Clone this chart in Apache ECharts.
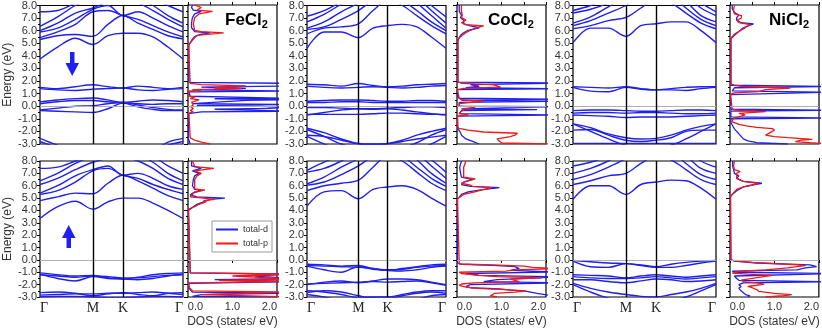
<!DOCTYPE html>
<html>
<head>
<meta charset="utf-8">
<script src="https://cdn.jsdelivr.net/npm/echarts@6/dist/echarts.min.js"></script>
<style>
  html, body { margin: 0; padding: 0; background: #fff; }
  #chart { width: 822px; height: 332px; }
</style>
</head>
<body>
<div id="chart"></div>
<script>
// k-path: Γ - M - K - Γ
const kTicks = [0, 0.37, 0.58, 1]
const kLabels = ['Γ', 'M', 'K', 'Γ']
// band samples: Γ, 1/3 ΓM, 2/3 ΓM, M, mid MK, K, 1/4 KΓ, 1/2 KΓ, 3/4 KΓ, Γ
const kPts = [0, 0.123, 0.247, 0.37, 0.475, 0.58, 0.685, 0.79, 0.895, 1]
// DOS axis tick values
const dosTicks = [0, 1, 2]

// ---- band energies (eV) ----
const bandsFeDn = [
  [3.75, 4.7, 5.4, 4.9, 5.6, 5.8, 5.8, 5.5, 4.7, 3.75],
  [5.3, 5.6, 5.7, 5.55, 6.5, 7.2, 6.6, 6.1, 5.6, 5.35],
  [5.45, 5.9, 6.5, 7.5, 7.6, 7.2, 6.9, 6.4, 5.9, 5.5],
  [5.9, 6.2, 6.9, 7.7, 8.0, 7.2, 7.5, 7.0, 6.4, 5.9],
  [6.0, 6.6, 7.4, 7.8, 8.3, 8.4, 8.2, 7.6, 6.9, 6.3],
  [6.35, 7.1, 8.0, 8.6, 8.8, 8.8, 8.6, 8.0, 7.2, 6.6],
  [7.5, 7.6, 8.2, 8.8, 9, 9, 9, 8.6, 8.0, 7.5],
  [1.5, 1.4, 1.55, 1.7, 1.55, 1.45, 1.6, 1.5, 1.4, 1.5],
  [1.4, 1.3, 1.25, 1.35, 1.4, 1.45, 1.3, 1.25, 1.35, 1.4],
  [0.35, 0.5, 0.6, 0.65, 0.5, 0.3, 0.4, 0.5, 0.45, 0.35],
  [0.2, 0.35, 0.45, 0.45, 0.35, 0.3, 0.2, 0.15, 0.2, 0.2],
  [-0.3, -0.15, 0.0, 0.05, 0.2, 0.3, 0.1, -0.1, -0.25, -0.3],
  [-0.35, -0.4, -0.45, -0.5, -0.2, 0.25, -0.05, -0.25, -0.35, -0.35],
  [-2.55, -3.1, -3.6, -3.9, -4, -4, -3.8, -3.5, -2.85, -2.55],
  [-2.8, -3.3, -3.8, -4, -4, -4, -4, -3.7, -3.1, -2.8]
]
const bandsFeUp = [
  [3.35, 4.3, 4.75, 4.1, 4.7, 5.0, 5.0, 4.6, 4.0, 3.35],
  [4.8, 5.1, 5.4, 5.35, 6.2, 6.85, 6.4, 5.8, 5.2, 4.8],
  [5.3, 5.6, 6.3, 7.2, 7.4, 6.85, 6.6, 6.1, 5.7, 5.35],
  [5.4, 6.0, 6.8, 7.3, 7.6, 6.85, 7.0, 6.6, 6.0, 5.7],
  [6.1, 6.6, 7.3, 7.9, 8.2, 8.3, 8.0, 7.4, 6.6, 6.1],
  [6.4, 7.0, 7.8, 8.4, 8.6, 8.6, 8.5, 7.9, 7.0, 6.4],
  [7.4, 7.5, 8.0, 8.5, 9, 9, 9, 8.4, 7.6, 7.0],
  [-1.05, -1.2, -1.3, -1.25, -1.45, -1.55, -1.4, -1.2, -1.1, -1.05],
  [-1.15, -1.5, -1.7, -1.35, -1.5, -1.55, -1.6, -1.5, -1.3, -1.15],
  [-1.2, -1.3, -1.4, -1.3, -1.35, -1.45, -1.45, -1.35, -1.25, -1.2],
  [-2.65, -2.6, -2.7, -2.9, -2.75, -2.65, -2.8, -2.9, -2.7, -2.65],
  [-2.85, -2.8, -2.75, -2.75, -2.7, -2.7, -2.65, -2.6, -2.7, -2.8],
  [-3.0, -2.95, -2.95, -3.0, -3.05, -3.05, -3.0, -2.95, -2.95, -3.0]
]
const bandsCoDn = [
  [4.6, 5.9, 5.9, 5.45, 6.2, 6.4, 6.5, 6.3, 5.5, 4.6],
  [5.75, 6.2, 6.3, 6.55, 7.6, 8.4, 8.0, 7.2, 6.4, 5.75],
  [6.1, 6.3, 6.9, 7.6, 8.4, 8.8, 8.4, 7.6, 6.7, 6.0],
  [6.2, 6.7, 7.5, 8.2, 9, 9, 9, 8.2, 7.2, 6.2],
  [6.7, 7.3, 8.1, 8.8, 9, 9, 9, 8.6, 7.6, 6.6],
  [7.15, 7.6, 8.3, 9, 9, 9, 9, 9, 8.0, 7.1],
  [1.75, 1.7, 1.6, 1.8, 1.65, 1.55, 1.6, 1.7, 1.75, 1.8],
  [1.6, 1.5, 1.45, 1.5, 1.55, 1.5, 1.45, 1.5, 1.6, 1.65],
  [0.4, 0.45, 0.5, 0.5, 0.45, 0.4, 0.4, 0.45, 0.45, 0.4],
  [0.3, 0.3, 0.35, 0.35, 0.3, 0.3, 0.3, 0.3, 0.3, 0.3],
  [-0.1, -0.1, -0.15, -0.2, -0.2, -0.15, -0.1, -0.05, -0.05, -0.1],
  [-0.7, -0.5, -0.3, -0.2, -0.25, -0.2, -0.3, -0.45, -0.6, -0.7],
  [-0.65, -0.65, -0.65, -0.65, -0.6, -0.55, -0.55, -0.6, -0.65, -0.65],
  [-1.75, -2.1, -2.6, -2.95, -3.0, -2.95, -2.7, -2.3, -2.0, -1.75],
  [-2.3, -2.4, -2.7, -3.0, -3.05, -3.0, -2.8, -2.6, -2.45, -2.3],
  [-2.4, -3.0, -3.5, -3.8, -3.9, -3.9, -3.8, -3.5, -3.0, -2.4],
  [-1.85, -2.4, -3.0, -3.4, -3.5, -3.5, -3.3, -2.9, -2.3, -1.85]
]
const bandsCoUp = [
  [4.35, 5.5, 5.6, 4.95, 5.7, 5.9, 6.0, 5.7, 5.0, 4.35],
  [5.6, 6.0, 6.2, 6.45, 7.5, 8.4, 8.0, 7.1, 6.2, 5.6],
  [6.05, 6.3, 6.9, 7.6, 8.4, 8.8, 8.4, 7.5, 6.6, 5.95],
  [6.15, 6.7, 7.5, 8.2, 9, 9, 9, 8.1, 7.0, 6.2],
  [7.1, 7.4, 8.0, 8.8, 9, 9, 9, 8.6, 7.6, 6.6],
  [7.25, 7.9, 8.5, 9, 9, 9, 9, 9, 8.1, 7.1],
  [-0.35, -0.4, -0.5, -0.45, -0.7, -0.85, -0.7, -0.55, -0.4, -0.35],
  [-0.5, -0.8, -1.0, -0.55, -0.75, -0.85, -0.9, -0.8, -0.6, -0.5],
  [-0.45, -0.5, -0.55, -0.6, -0.7, -0.8, -0.75, -0.6, -0.5, -0.45],
  [-2.0, -1.8, -1.7, -1.85, -1.7, -1.55, -1.55, -1.6, -1.8, -2.0],
  [-1.95, -1.9, -1.85, -1.8, -1.75, -1.8, -1.75, -1.7, -1.85, -2.05],
  [-2.5, -2.6, -2.8, -3.05, -3.0, -3.0, -2.8, -2.6, -2.5, -2.5],
  [-2.65, -2.5, -2.6, -2.9, -3.1, -3.1, -2.9, -2.7, -2.6, -2.7],
  [-2.8, -3.0, -3.3, -3.5, -3.5, -3.5, -3.4, -3.2, -2.9, -2.8]
]
const bandsNiDn = [
  [5.05, 6.2, 6.2, 5.55, 6.4, 6.55, 6.7, 6.7, 6.0, 5.05],
  [6.15, 6.4, 6.8, 7.05, 7.8, 8.5, 8.2, 7.4, 6.6, 6.15],
  [6.4, 6.8, 7.4, 8.0, 8.8, 9, 8.8, 7.8, 6.9, 6.4],
  [6.6, 7.1, 7.9, 8.6, 9, 9, 9, 8.3, 7.2, 6.7],
  [7.4, 7.7, 8.2, 9, 9, 9, 9, 8.8, 7.8, 7.2],
  [7.6, 8.0, 8.6, 9, 9, 9, 9, 9, 8.2, 7.5],
  [1.55, 1.5, 1.45, 1.55, 1.4, 1.3, 1.4, 1.5, 1.55, 1.55],
  [1.5, 1.2, 1.15, 1.5, 1.35, 1.3, 1.3, 1.25, 1.4, 1.5],
  [-0.35, -0.3, -0.3, -0.35, -0.4, -0.4, -0.35, -0.3, -0.3, -0.35],
  [-0.55, -0.5, -0.5, -0.55, -0.5, -0.5, -0.55, -0.6, -0.6, -0.55],
  [-0.7, -0.75, -0.8, -0.9, -0.85, -0.85, -0.85, -0.8, -0.75, -0.7],
  [-1.4, -1.7, -2.2, -2.5, -2.6, -2.55, -2.3, -1.9, -1.6, -1.4],
  [-1.9, -1.85, -2.3, -2.7, -2.8, -2.7, -2.5, -2.0, -1.9, -1.9],
  [-1.4, -2.0, -2.6, -3.1, -3.3, -3.3, -3.1, -2.6, -2.0, -1.4],
  [-2.95, -2.95, -2.95, -2.95, -2.95, -2.95, -2.95, -2.95, -2.95, -2.95]
]
const bandsNiUp = [
  [4.9, 6.0, 6.0, 5.3, 6.1, 6.3, 6.45, 6.4, 5.8, 4.9],
  [6.1, 6.4, 6.8, 7.0, 7.8, 8.4, 8.1, 7.3, 6.5, 6.1],
  [6.5, 6.9, 7.5, 8.2, 9, 9, 8.8, 7.8, 6.9, 6.5],
  [7.0, 7.4, 8.0, 8.8, 9, 9, 9, 8.4, 7.4, 7.0],
  [7.6, 7.9, 8.4, 9, 9, 9, 9, 9, 8.0, 7.5],
  [-0.05, -0.15, -0.25, -0.3, -0.4, -0.55, -0.35, -0.2, -0.1, -0.05],
  [-0.1, -0.55, -0.6, -0.3, -0.45, -0.6, -0.6, -0.45, -0.25, -0.1],
  [-1.2, -1.25, -1.3, -1.45, -1.3, -1.2, -1.3, -1.4, -1.3, -1.2],
  [-1.35, -1.45, -1.5, -1.5, -1.45, -1.35, -1.45, -1.55, -1.45, -1.35],
  [-1.6, -1.6, -1.75, -1.85, -1.7, -1.55, -1.6, -1.75, -1.7, -1.6],
  [-1.9, -2.3, -2.6, -2.8, -2.95, -3.0, -2.8, -2.6, -2.3, -1.9],
  [-2.0, -2.6, -3.1, -3.4, -3.5, -3.5, -3.3, -3.0, -2.5, -2.0]
]

// ---- DOS curves: [energy (eV), DOS (states/eV)] ----
const dosFeDnD = [[-3,0.05],[-2.8,0.03],[-2.6,0.01],[-0.6,0.01],[-0.45,0.3],[-0.4,2.3],[-0.32,2.3],[-0.25,0.6],[-0.18,1.8],[-0.1,2.3],[-0.02,1.6],[0.05,0.2],[0.12,2.3],[0.2,0.1],[0.35,0.1],[0.45,1.3],[0.5,2.3],[0.58,0.6],[0.62,2.3],[0.7,2.3],[0.78,0.05],[1.12,0.02],[1.2,2.3],[1.28,0.2],[1.4,1.3],[1.5,0.3],[1.6,2.3],[1.7,2.3],[1.8,2.3],[1.88,0.02],[4.8,0.02],[5.0,0.05],[5.3,0.1],[5.5,0.15],[5.7,0.3],[5.8,0.5],[5.9,0.15],[6.2,0.08],[6.6,0.08],[7.0,0.1],[7.3,0.15],[7.5,0.3],[7.6,0.12],[7.8,0.08],[8.0,0.1]]
const dosFeDnP = [[-3,0.5],[-2.85,0.3],[-2.7,0.15],[-2.5,0.05],[-2.4,0.02],[-0.55,0.02],[-0.45,0.12],[-0.35,0.05],[-0.2,0.12],[-0.05,0.06],[0.1,0.12],[0.3,0.08],[0.5,0.25],[0.6,0.05],[0.7,0.15],[0.8,0.01],[1.2,0.01],[1.25,0.3],[1.3,0.1],[1.38,1.2],[1.45,0.6],[1.52,0.9],[1.6,1.3],[1.7,0.3],[1.8,0.05],[1.9,0.01],[4.85,0.01],[5.0,0.05],[5.2,0.1],[5.4,0.15],[5.6,0.2],[5.7,0.5],[5.8,0.8],[5.9,0.3],[6.0,0.15],[6.5,0.12],[7.0,0.15],[7.3,0.25],[7.5,0.55],[7.6,0.2],[7.8,0.3],[8.0,0.15]]
const dosFeUpD = [[-3,2.3],[-2.95,0.1],[-2.8,0.3],[-2.7,2.3],[-2.6,0.1],[-2.3,0.02],[-1.9,0.02],[-1.75,2.3],[-1.6,0.6],[-1.5,2.3],[-1.4,2.3],[-1.3,1.5],[-1.15,2.3],[-1.05,0.05],[-0.9,0.01],[4.0,0.01],[4.15,0.05],[4.3,0.12],[4.5,0.2],[4.7,0.35],[4.9,0.5],[5.0,0.83],[5.1,0.2],[5.25,0.05],[5.4,0.1],[5.6,0.3],[5.7,0.15],[6.0,0.1],[6.5,0.12],[6.8,0.15],[7.0,0.25],[7.2,0.1],[7.4,0.3],[7.6,0.08],[8.0,0.08]]
const dosFeUpP = [[-3,2.3],[-2.9,2.3],[-2.8,0.3],[-2.7,0.3],[-2.6,2.3],[-2.5,0.1],[-2.2,0.02],[-1.85,0.02],[-1.75,2.3],[-1.65,0.7],[-1.55,2.3],[-1.45,2.3],[-1.3,1.0],[-1.15,2.3],[-1.05,0.05],[-0.9,0.01],[4.1,0.01],[4.3,0.15],[4.5,0.25],[4.7,0.4],[4.8,0.35],[4.9,0.6],[5.0,0.35],[5.1,0.05],[5.25,0.05],[5.5,0.15],[5.65,0.38],[5.75,0.15],[6.0,0.15],[6.5,0.15],[6.8,0.2],[7.0,0.3],[7.2,0.15],[7.4,0.58],[7.55,0.15],[8.0,0.1]]
const dosCoDnD = [[-3,0.5],[-2.8,0.35],[-2.6,0.2],[-2.3,0.1],[-2.1,0.08],[-1.8,0.02],[-0.8,0.01],[-0.7,2.3],[-0.6,0.05],[-0.35,0.1],[-0.28,1.8],[-0.22,0.1],[-0.1,0.1],[-0.05,2.3],[0.0,0.05],[0.3,0.05],[0.38,2.3],[0.45,0.1],[0.55,2.3],[0.62,0.05],[0.8,0.01],[1.3,0.01],[1.38,2.3],[1.45,0.2],[1.55,0.5],[1.7,0.3],[1.82,2.3],[1.9,0.02],[5.2,0.02],[5.4,0.05],[5.6,0.08],[5.8,0.15],[6.0,0.25],[6.2,0.5],[6.35,0.3],[6.5,0.15],[6.8,0.15],[7.0,0.08],[7.2,0.1],[7.5,0.05],[8.0,0.05]]
const dosCoDnP = [[-3,2.3],[-2.92,1.0],[-2.8,1.0],[-2.6,0.9],[-2.42,1.2],[-2.3,1.3],[-2.15,1.36],[-2.05,0.6],[-1.9,0.25],[-1.76,0.04],[-1.6,0.01],[-0.8,0.01],[-0.7,0.26],[-0.6,0.05],[-0.4,0.1],[-0.3,0.15],[-0.2,0.25],[-0.1,0.41],[0.0,0.05],[0.2,0.05],[0.4,0.6],[0.5,0.1],[0.6,0.05],[0.7,0.01],[1.3,0.01],[1.4,0.15],[1.5,0.98],[1.6,0.9],[1.7,0.8],[1.8,0.1],[1.95,0.02],[5.3,0.02],[5.45,0.05],[5.6,0.12],[5.8,0.2],[6.0,0.3],[6.2,0.45],[6.34,0.6],[6.45,0.2],[6.6,0.1],[6.8,0.2],[7.0,0.1],[7.2,0.12],[7.5,0.1],[8.0,0.1]]
const dosCoUpD = [[-3,2.3],[-2.85,2.3],[-2.7,1.8],[-2.55,1.57],[-2.45,1.2],[-2.35,0.95],[-2.25,0.3],[-2.15,0.2],[-2.0,0.3],[-1.85,2.3],[-1.75,0.6],[-1.6,0.9],[-1.45,0.9],[-1.37,2.3],[-1.25,0.5],[-1.1,0.2],[-0.97,2.3],[-0.85,1.2],[-0.7,1.4],[-0.55,1.3],[-0.45,0.8],[-0.35,0.1],[-0.25,0.01],[4.9,0.01],[5.05,0.05],[5.3,0.1],[5.5,0.25],[5.65,0.5],[5.85,0.95],[5.95,0.3],[6.1,0.1],[6.3,0.15],[6.5,0.35],[6.7,0.1],[7.0,0.08],[7.5,0.06],[8.0,0.1]]
const dosCoUpP = [[-3,0.9],[-2.9,0.75],[-2.8,0.8],[-2.7,0.85],[-2.6,1.3],[-2.5,1.55],[-2.4,1.1],[-2.3,0.45],[-2.2,0.2],[-2.05,0.05],[-1.95,0.1],[-1.85,0.4],[-1.75,1.4],[-1.65,1.3],[-1.55,1.2],[-1.45,1.9],[-1.35,0.9],[-1.25,0.5],[-1.1,0.1],[-1.0,0.05],[-0.9,1.1],[-0.8,1.3],[-0.7,2.3],[-0.6,1.7],[-0.5,1.5],[-0.4,0.8],[-0.33,0.05],[-0.25,0.01],[4.95,0.01],[5.1,0.05],[5.3,0.15],[5.5,0.4],[5.7,0.6],[5.85,0.79],[5.95,0.35],[6.05,0.3],[6.2,0.1],[6.35,0.2],[6.55,0.41],[6.7,0.15],[7.0,0.15],[7.5,0.15],[8.0,0.2]]
const dosNiDnD = [[-3,1.3],[-2.9,0.6],[-2.75,0.4],[-2.6,0.3],[-2.4,0.25],[-2.2,0.2],[-2.0,0.15],[-1.8,0.1],[-1.5,0.05],[-1.3,0.02],[-1.0,0.02],[-0.95,2.3],[-0.85,0.02],[-0.4,0.02],[-0.32,2.3],[-0.25,0.02],[0.9,0.01],[1.1,2.3],[1.2,0.05],[1.45,0.1],[1.55,2.3],[1.65,0.02],[5.3,0.02],[5.6,0.1],[5.9,0.2],[6.2,0.3],[6.4,0.45],[6.5,0.53],[6.6,0.25],[6.8,0.15],[7.0,0.15],[7.2,0.2],[7.4,0.1],[7.7,0.05],[8.0,0.05]]
const dosNiDnP = [[-3,2.3],[-2.9,1.8],[-2.82,1.47],[-2.7,1.6],[-2.63,1.85],[-2.5,1.3],[-2.42,1.0],[-2.3,0.8],[-2.16,0.76],[-2.0,0.95],[-1.9,1.0],[-1.78,0.95],[-1.68,0.6],[-1.58,0.4],[-1.45,0.2],[-1.37,0.15],[-1.24,0.04],[-1.1,0.03],[-0.97,0.08],[-0.85,0.2],[-0.7,0.34],[-0.58,0.2],[-0.44,0.8],[-0.35,0.2],[-0.25,0.05],[-0.15,0.01],[0.95,0.01],[1.05,0.1],[1.15,0.64],[1.3,0.8],[1.43,1.36],[1.55,0.3],[1.65,0.1],[1.75,0.02],[5.3,0.02],[5.5,0.05],[5.7,0.1],[5.9,0.2],[6.1,0.3],[6.3,0.38],[6.45,0.45],[6.6,0.2],[6.8,0.15],[6.95,0.25],[7.15,0.26],[7.3,0.1],[7.6,0.08],[8.0,0.1]]
const dosNiUpD = [[-3,0.4],[-2.9,0.45],[-2.8,0.35],[-2.65,0.3],[-2.5,0.25],[-2.3,0.2],[-2.15,0.25],[-2.0,0.2],[-1.85,0.3],[-1.77,2.3],[-1.65,0.2],[-1.5,0.15],[-1.3,0.1],[-1.1,2.3],[-1.0,0.1],[-0.9,0.05],[-0.8,1.5],[-0.65,1.7],[-0.55,1.95],[-0.4,1.8],[-0.25,0.6],[-0.1,0.1],[0.0,0.02],[0.1,0.01],[5.1,0.01],[5.3,0.05],[5.6,0.15],[5.9,0.3],[6.1,0.55],[6.2,0.72],[6.35,0.3],[6.6,0.15],[6.8,0.2],[7.0,0.1],[7.3,0.08],[7.6,0.06],[8.0,0.06]]
const dosNiUpP = [[-3,0.8],[-2.9,1.2],[-2.8,1.39],[-2.7,1.0],[-2.55,0.65],[-2.4,0.6],[-2.25,0.5],[-2.15,0.4],[-2.05,0.6],[-1.95,0.77],[-1.85,0.6],[-1.75,0.3],[-1.64,0.25],[-1.5,0.5],[-1.38,0.5],[-1.25,0.95],[-1.15,0.4],[-1.07,0.05],[-0.91,0.25],[-0.8,0.8],[-0.65,1.3],[-0.55,1.5],[-0.47,1.7],[-0.4,1.55],[-0.3,1.0],[-0.2,0.5],[-0.1,0.15],[0.0,0.02],[0.1,0.01],[5.1,0.01],[5.3,0.05],[5.5,0.1],[5.7,0.15],[5.9,0.3],[6.05,0.5],[6.2,0.64],[6.35,0.3],[6.6,0.15],[6.8,0.15],[7.0,0.15],[7.15,0.23],[7.3,0.1],[7.6,0.08],[8.0,0.1]]

const compounds = ['FeCl', 'CoCl', 'NiCl']
const bandSets = [[bandsFeDn, bandsCoDn, bandsNiDn], [bandsFeUp, bandsCoUp, bandsNiUp]]
const dosDSets = [[dosFeDnD, dosCoDnD, dosNiDnD], [dosFeUpD, dosCoUpD, dosNiUpD]]
const dosPSets = [[dosFeDnP, dosCoDnP, dosNiDnP], [dosFeUpP, dosCoUpP, dosNiUpP]]

// layout (px)
const rowTop = [5, 161]
const rowH = [139, 136]
const bandLeft = [40, 307, 573]
const bandW = [143, 139, 143]
const dosLeft = [188, 457, 730]
const dosW = 89
const titleLeft = [225, 488, 769]

const BLUE = '#1f1ff0'
const RED = '#f01818'
const FONT = 'Liberation Sans, Arial, sans-serif'

let grids = [], xAxes = [], yAxes = [], series = [], titles = []

const zeroLine = { yAxis: 0, lineStyle: { color: '#b0b0b0', width: 1, type: 'solid' } }

for (let r = 0; r < 2; r++) {
  for (let c = 0; c < 3; c++) {
    // ---- band structure panel ----
    let gi = grids.length
    grids.push({ left: bandLeft[c], top: rowTop[r], width: bandW[c], height: rowH[r],
      show: true, borderColor: '#000', borderWidth: 1.2, backgroundColor: 'transparent' })
    let xi = xAxes.length
    xAxes.push({
      gridIndex: gi, type: 'value', min: 0, max: 1,
      axisLine: { show: false }, axisTick: { show: false }, splitLine: { show: false },
      axisLabel: r === 1 ? {
        show: true, customValues: kTicks, showMinLabel: true, showMaxLabel: true,
        alignMinLabel: 'left', alignMaxLabel: 'right',
        formatter: v => kLabels[kTicks.indexOf(v)],
        fontFamily: 'Liberation Serif, Times New Roman, serif', fontSize: 14, color: '#222', margin: 4
      } : { show: false }
    })
    let yi = yAxes.length
    yAxes.push({
      gridIndex: gi, type: 'value', min: -3, max: 8, interval: 1,
      axisLine: { show: false },
      axisTick: { show: true, length: 3, lineStyle: { color: '#000' } },
      minorTick: { show: true, splitNumber: 2, length: 2, lineStyle: { color: '#000' } },
      splitLine: { show: false },
      axisLabel: { formatter: v => v.toFixed(1), fontFamily: FONT, fontSize: 11, color: '#333', margin: 3 },
      name: c === 0 ? 'Energy (eV)' : '', nameLocation: 'middle', nameGap: 25,
      nameTextStyle: { fontFamily: FONT, fontSize: 12, color: '#333' }
    })
    bandSets[r][c].forEach((band, bi) => {
      let s = {
        type: 'line', xAxisIndex: xi, yAxisIndex: yi, silent: true,
        data: kPts.map((k, i) => [k, band[i]]),
        smooth: 0.35, symbol: 'none',
        lineStyle: { color: BLUE, width: 1.4 }, z: 3
      }
      if (bi === 0) {
        s.markLine = {
          silent: true, symbol: 'none', label: { show: false }, animation: false,
          data: [
            zeroLine,
            { xAxis: kTicks[1], lineStyle: { color: '#000', width: 1.4, type: 'solid' } },
            { xAxis: kTicks[2], lineStyle: { color: '#000', width: 1.4, type: 'solid' } }
          ]
        }
      }
      series.push(s)
    })

    // ---- DOS panel ----
    gi = grids.length
    grids.push({ left: dosLeft[c], top: rowTop[r], width: dosW, height: rowH[r],
      show: true, borderColor: '#000', borderWidth: 1.2, backgroundColor: 'transparent' })
    xi = xAxes.length
    xAxes.push({
      gridIndex: gi, type: 'value', min: 0, max: 2, interval: 1,
      axisLine: { show: false },
      axisTick: { show: r === 1, customValues: dosTicks, length: 3, lineStyle: { color: '#000' } },
      splitLine: { show: false },
      axisLabel: {
        show: r === 1, customValues: dosTicks, hideOverlap: false, showMinLabel: true, showMaxLabel: true,
        formatter: v => v === 0 ? '{l|0.0}' : v === 2 ? '{r|2.0}' : '{m|1.0}',
        rich: {
          l: { fontFamily: FONT, fontSize: 11, color: '#333', padding: [0, 0, 0, 15] },
          m: { fontFamily: FONT, fontSize: 11, color: '#333' },
          r: { fontFamily: FONT, fontSize: 11, color: '#333', padding: [0, 15, 0, 0] }
        },
        fontFamily: FONT, fontSize: 11, color: '#333', margin: 4
      }
    })
    xAxes.push({
      gridIndex: gi, type: 'value', position: 'top', min: 0, max: 2, interval: 0.5,
      axisLine: { show: false }, axisLabel: { show: false }, splitLine: { show: false },
      axisTick: { show: true, length: 3, lineStyle: { color: '#000' } }
    })
    yi = yAxes.length
    yAxes.push({
      gridIndex: gi, type: 'value', min: -3, max: 8, interval: 1,
      axisLine: { show: false }, axisLabel: { show: false }, splitLine: { show: false },
      axisTick: { show: true, length: 4, lineStyle: { color: '#000' } },
      minorTick: { show: true, splitNumber: 2, length: 2, lineStyle: { color: '#000' } }
    })
    series.push({
      name: 'total-d', type: 'line', xAxisIndex: xi, yAxisIndex: yi, silent: true,
      data: dosDSets[r][c].map(p => [p[1], p[0]]), symbol: 'none',
      itemStyle: { color: BLUE }, lineStyle: { color: BLUE, width: 1.3 }, z: 3,
      markLine: { silent: true, symbol: 'none', label: { show: false }, animation: false, data: [zeroLine] }
    })
    series.push({
      name: 'total-p', type: 'line', xAxisIndex: xi, yAxisIndex: yi, silent: true,
      data: dosPSets[r][c].map(p => [p[1], p[0]]), symbol: 'none',
      itemStyle: { color: RED }, lineStyle: { color: RED, width: 1.3 }, z: 4
    })

    if (r === 0) {
      titles.push({
        text: '{a|' + compounds[c] + '}{b|2}', left: titleLeft[c], top: 10, padding: 0,
        textStyle: {
          rich: {
            a: { fontFamily: FONT, fontSize: 17, fontWeight: 'bold', color: '#000' },
            b: { fontFamily: FONT, fontSize: 11, fontWeight: 'bold', color: '#000', padding: [9, 0, 0, 0] }
          }
        }
      })
    } else {
      // x-axis caption under the DOS panel
      titles.push({
        text: 'DOS (states/ eV)', left: dosLeft[c] + dosW / 2, top: 316, textAlign: 'center', padding: 0,
        textStyle: { fontFamily: FONT, fontSize: 12, fontWeight: 'normal', color: '#333' }
      })
    }
  }
}

const chart = echarts.init(document.getElementById('chart'))
chart.setOption({
  animation: false,
  backgroundColor: '#fff',
  title: titles,
  legend: {
    data: ['total-d', 'total-p'], left: 212, top: 221, orient: 'vertical',
    selectedMode: false, backgroundColor: '#fff', borderColor: '#999', borderWidth: 1,
    padding: [4, 4, 4, 4], itemGap: 5, itemWidth: 22, itemHeight: 2, icon: 'rect',
    textStyle: { fontFamily: FONT, fontSize: 9, color: '#333' }
  },
  grid: grids,
  xAxis: xAxes,
  yAxis: yAxes,
  series: series,
  graphic: [
    // spin-down arrow
    { type: 'rect', shape: { x: 70, y: 52, width: 4.5, height: 12 }, style: { fill: BLUE }, z: 10 },
    { type: 'polygon', shape: { points: [[65.5, 63], [79, 63], [72.2, 76]] }, style: { fill: BLUE }, z: 10 },
    // spin-up arrow
    { type: 'rect', shape: { x: 66.5, y: 237, width: 4.5, height: 11 }, style: { fill: BLUE }, z: 10 },
    { type: 'polygon', shape: { points: [[62, 238], [75.5, 238], [68.7, 225]] }, style: { fill: BLUE }, z: 10 }
  ]
})
</script>
</body>
</html>
